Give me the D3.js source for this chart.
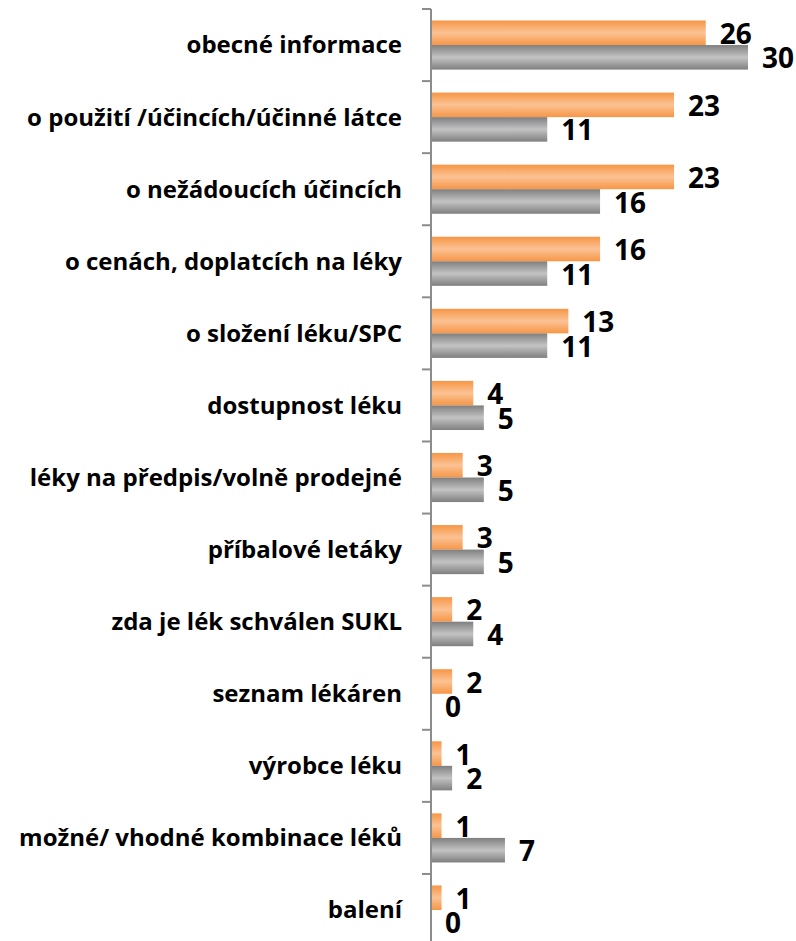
<!DOCTYPE html>
<html>
<head>
<meta charset="utf-8">
<script src="https://cdn.jsdelivr.net/npm/d3@7"></script>
<style>
    body { margin: 0; background: #fff; }
    svg { display: block; }
</style>
</head>
<body>
<svg id="chart" width="796" height="941"></svg>
<script>
// kategorie dotazů
var categories = [
    'obecné informace',
    'o použití /účincích/účinné látce',
    'o nežádoucích účincích',
    'o cenách, doplatcích na léky',
    'o složení léku/SPC',
    'dostupnost léku',
    'léky na předpis/volně prodejné',
    'příbalové letáky',
    'zda je lék schválen SUKL',
    'seznam lékáren',
    'výrobce léku',
    'možné/ vhodné kombinace léků',
    'balení'
];
// oranžová řada
var seriesA = [26, 23, 23, 16, 13, 4, 3, 3, 2, 2, 1, 1, 1];
// šedá řada
var seriesB = [30, 11, 16, 11, 11, 5, 5, 5, 4, 0, 2, 7, 0];
var seriesKeys = ['a', 'b'];

var svg = d3.select('#chart');
var axisX = 431,
    plotTop = 9,
    bandH = 72.08;

var x = d3.scaleLinear().domain([0, 30]).range([axisX, 748]);
var y = d3.scaleBand()
    .domain(categories)
    .range([plotTop, plotTop + bandH * categories.length])
    .paddingInner(0).paddingOuter(0);
var inner = d3.scaleBand()
    .domain(seriesKeys)
    .range([11.5, bandH - 11.5]);

// přechody pro sloupce
var defs = svg.append('defs');
function grad(id, edge, mid){
    var g = defs.append('linearGradient').attr('id', id)
        .attr('x1', 0).attr('y1', 0).attr('x2', 0).attr('y2', 1);
    g.append('stop').attr('offset', '0%').attr('stop-color', edge);
    g.append('stop').attr('offset', '50%').attr('stop-color', mid);
    g.append('stop').attr('offset', '100%').attr('stop-color', edge);
}
grad('gA', '#f79646', '#fbc294');
grad('gB', '#7f7f7f', '#c3c3c3');

var rows = categories.map(function(c, i){
    return {cat: c, a: seriesA[i], b: seriesB[i]};
});

var g = svg.append('g');
var row = g.selectAll('g.row').data(rows).enter().append('g')
    .attr('class', 'row')
    .attr('transform', function(d){ return 'translate(0,' + y(d.cat) + ')'; });

seriesKeys.forEach(function(k){
    row.append('rect')
        .attr('x', x(0))
        .attr('y', inner(k))
        .attr('width', function(d){ return x(d[k]) - x(0); })
        .attr('height', inner.bandwidth())
        .attr('fill', k === 'a' ? 'url(#gA)' : 'url(#gB)');
    row.append('text')
        .attr('x', function(d){ return x(d[k]) + 14; })
        .attr('y', inner(k) + inner.bandwidth() / 2 + 1)
        .attr('dy', '0.36em')
        .style('font-family', '"Open Sans", sans-serif')
        .style('font-weight', 'bold')
        .style('font-size', '28px')
        .attr('fill', '#000')
        .text(function(d){ return d[k]; });
});

// osa kategorií
var ax = svg.append('g').attr('transform', 'translate(' + axisX + ',0)');
ax.append('line')
    .attr('x1', 0).attr('x2', 0)
    .attr('y1', plotTop).attr('y2', plotTop + bandH * categories.length)
    .attr('stroke', '#8c8c8c').attr('stroke-width', 2);
ax.selectAll('line.sep')
    .data(d3.range(categories.length + 1))
    .enter().append('line')
    .attr('class', 'sep')
    .attr('x1', -9).attr('x2', 0)
    .attr('y1', function(i){ return plotTop + i * bandH; })
    .attr('y2', function(i){ return plotTop + i * bandH; })
    .attr('stroke', '#8c8c8c').attr('stroke-width', 2);

svg.append('g').selectAll('text.cat').data(categories).enter().append('text')
    .attr('class', 'cat')
    .attr('x', 402)
    .attr('y', function(d){ return y(d) + y.bandwidth() / 2; })
    .attr('dy', '0.35em')
    .attr('text-anchor', 'end')
    .style('font-family', '"Open Sans", sans-serif')
    .style('font-weight', 'bold')
    .style('font-size', '24px')
    .attr('fill', '#000')
    .text(function(d){ return d; });
</script>
</body>
</html>
